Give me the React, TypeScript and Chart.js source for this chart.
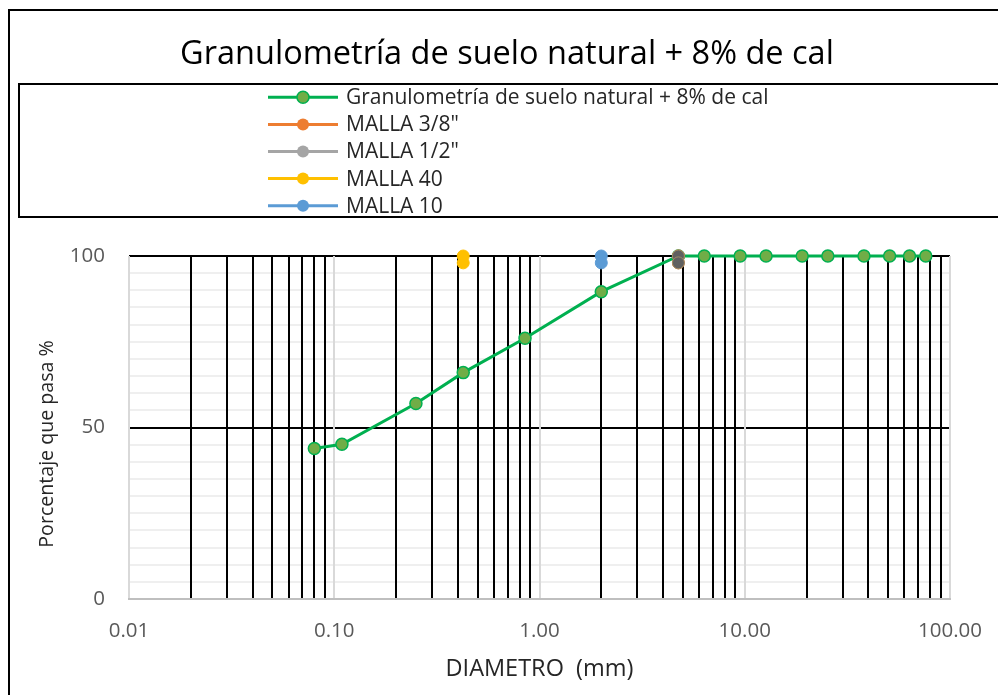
import React, { useEffect, useRef } from "react";
import { Chart, registerables } from "chart.js";

Chart.register(...registerables);

const chartTitle = "Granulometría de suelo natural + 8% de cal";
const xAxisTitle = "DIAMETRO  (mm)";
const yAxisTitle = "Porcentaje que pasa %";

const seriesLabels = [
  "Granulometría de suelo natural + 8% de cal",
  'MALLA 3/8"',
  'MALLA 1/2"',
  "MALLA 40",
  "MALLA 10",
];
const seriesColors = ["#00b050", "#ed7d31", "#a5a5a5", "#ffc000", "#5b9bd5"];

const sieveDiameters = [0.08, 0.109, 0.25, 0.425, 0.85, 2.0, 4.75, 6.35, 9.5, 12.7, 19.05, 25.4, 38.1, 50.8, 63.5, 76.2];
const percentPassing = [43.9, 45.1, 57, 66, 76, 89.6, 100, 100, 100, 100, 100, 100, 100, 100, 100, 100];

const malla38X = [4.75, 4.75];
const malla38Y = [100, 98];
const malla12X = [4.75, 4.75];
const malla12Y = [100, 98];
const malla40X = [0.425, 0.425];
const malla40Y = [100, 98];
const malla10X = [2.0, 2.0];
const malla10Y = [100, 98];

const xDecades = [0.01, 0.1, 1, 10];
const xMultipliers = [1, 2, 3, 4, 5, 6, 7, 8, 9];
const xMax = 100;
const yLabelValues = [0, 50, 100];
const yBlackLines = [50, 100];

const FONT = "'Open Sans', Lato, sans-serif";

const pts = (xs: number[], ys: number[]) => xs.map((x, i) => ({ x, y: ys[i] }));

const isDecade = (v: number) => {
  const l = Math.log10(v);
  return Math.abs(l - Math.round(l)) < 1e-9;
};

const framePlugin = {
  id: "frameAndLegend",
  afterDraw(chart: any) {
    const ctx = chart.ctx as CanvasRenderingContext2D;
    ctx.save();
    // outer border
    ctx.strokeStyle = "#000";
    ctx.lineWidth = 2;
    ctx.strokeRect(9, 10, 1000, 700);
    // title
    ctx.fillStyle = "#000";
    ctx.font = `32.5px ${FONT}`;
    ctx.textAlign = "center";
    ctx.textBaseline = "middle";
    ctx.fillText(chartTitle, 507, 55);
    // y axis title
    ctx.save();
    ctx.translate(47, 444);
    ctx.rotate(-Math.PI / 2);
    ctx.fillStyle = "#262626";
    ctx.font = `19.6px ${FONT}`;
    ctx.fillText(yAxisTitle, 0, 0);
    ctx.restore();
    // legend box
    ctx.strokeStyle = "#000";
    ctx.lineWidth = 2;
    ctx.strokeRect(19, 84, 990, 133);
    ctx.font = `21px ${FONT}`;
    ctx.textAlign = "left";
    chart.data.datasets.forEach((ds: any, i: number) => {
      const y = 97.3 + i * 27.1;
      ctx.strokeStyle = ds.borderColor;
      ctx.lineWidth = 3;
      ctx.beginPath();
      ctx.moveTo(268, y);
      ctx.lineTo(338, y);
      ctx.stroke();
      ctx.beginPath();
      ctx.arc(303, y, 6, 0, Math.PI * 2);
      ctx.fillStyle = i === 0 ? "#70ad47" : ds.borderColor;
      ctx.fill();
      if (i === 0) {
        ctx.lineWidth = 1.5;
        ctx.strokeStyle = "#00b050";
        ctx.stroke();
      }
      ctx.fillStyle = "#262626";
      ctx.fillText(ds.label, 346, y + 1);
    });
    ctx.restore();
  },
};

export default function App() {
  const ref = useRef<HTMLCanvasElement | null>(null);

  useEffect(() => {
    if (!ref.current) return;
    const markerDs = (idx: number, xs: number[], ys: number[], order: number, fill?: string, border?: string) => ({
      label: seriesLabels[idx],
      data: pts(xs, ys),
      showLine: true,
      borderColor: seriesColors[idx],
      backgroundColor: seriesColors[idx],
      pointBackgroundColor: fill || seriesColors[idx],
      pointBorderColor: border || seriesColors[idx],
      pointBorderWidth: 1,
      borderWidth: 3,
      pointRadius: 6,
      order,
      clip: false,
    });
    const chart = new Chart(ref.current, {
      type: "scatter",
      data: {
        datasets: [
          {
            label: seriesLabels[0],
            data: pts(sieveDiameters, percentPassing),
            showLine: true,
            borderColor: seriesColors[0],
            backgroundColor: "#70ad47",
            pointBackgroundColor: "#70ad47",
            pointBorderColor: "#00b050",
            pointBorderWidth: 1.5,
            borderWidth: 3,
            pointRadius: 6,
            order: 5,
            clip: false,
          } as any,
          markerDs(1, malla38X, malla38Y, 4),
          markerDs(2, malla12X, malla12Y, 3, "#606060", "#9e8a66"),
          markerDs(3, malla40X, malla40Y, 2),
          markerDs(4, malla10X, malla10Y, 1),
        ],
      },
      options: {
        animation: false,
        responsive: false,
        maintainAspectRatio: false,
        devicePixelRatio: 1,
        layout: { padding: { left: 20, right: 48, top: 256, bottom: 0 } },
        plugins: {
          legend: { display: false },
          title: { display: false },
          tooltip: { enabled: false },
        },
        scales: {
          y: {
            type: "linear",
            min: 0,
            max: 100,
            afterFit: (s: any) => {
              s.width = 109;
              s.paddingTop = 0;
              s.paddingBottom = 0;
            },
            ticks: {
              stepSize: 5,
              autoSkip: false,
              padding: 24,
              color: "#595959",
              font: { family: FONT, size: 20.5 },
              callback: (v: any) => (yLabelValues.includes(Number(v)) ? String(v) : ""),
            },
            grid: {
              z: -2,
              drawTicks: false,
              color: (c: any) => {
                const v = c.tick && c.tick.value;
                if (yBlackLines.includes(v)) return "#000";
                if (v === 0) return "#bfbfbf";
                return "#efefef";
              },
              lineWidth: 2,
            },
            border: { display: false },
            title: { display: false },
          },
          x: {
            type: "logarithmic",
            min: xDecades[0],
            max: xMax,
            afterFit: (s: any) => {
              s.height = 96;
              s.paddingLeft = 0;
              s.paddingRight = 0;
            },
            afterBuildTicks: (s: any) => {
              const t: any[] = [];
              xDecades.forEach((d) => xMultipliers.forEach((m) => t.push({ value: d * m, major: m === 1 })));
              t.push({ value: xMax, major: true });
              s.ticks = t;
            },
            ticks: {
              autoSkip: false,
              maxRotation: 0,
              padding: 20,
              color: "#595959",
              font: { family: FONT, size: 20.5 },
              callback: (v: any) => (isDecade(Number(v)) ? Number(v).toFixed(2) : ""),
            },
            grid: {
              z: -1,
              drawTicks: false,
              color: (c: any) => (c.tick && isDecade(c.tick.value) ? "#d9d9d9" : "#000"),
              lineWidth: 2,
            },
            border: { color: "#bfbfbf", width: 2 },
            title: {
              display: true,
              text: xAxisTitle,
              color: "#262626",
              font: { family: FONT, size: 23.5 },
              padding: { top: 0, bottom: 12 },
            },
          },
        },
      },
      plugins: [framePlugin],
    } as any);
    return () => chart.destroy();
  }, []);

  return (
    <div style={{ position: "fixed", left: 0, top: 0, width: 998, height: 695, background: "#fff" }}>
      <canvas ref={ref} width={998} height={695} style={{ display: "block" }} />
    </div>
  );
}
